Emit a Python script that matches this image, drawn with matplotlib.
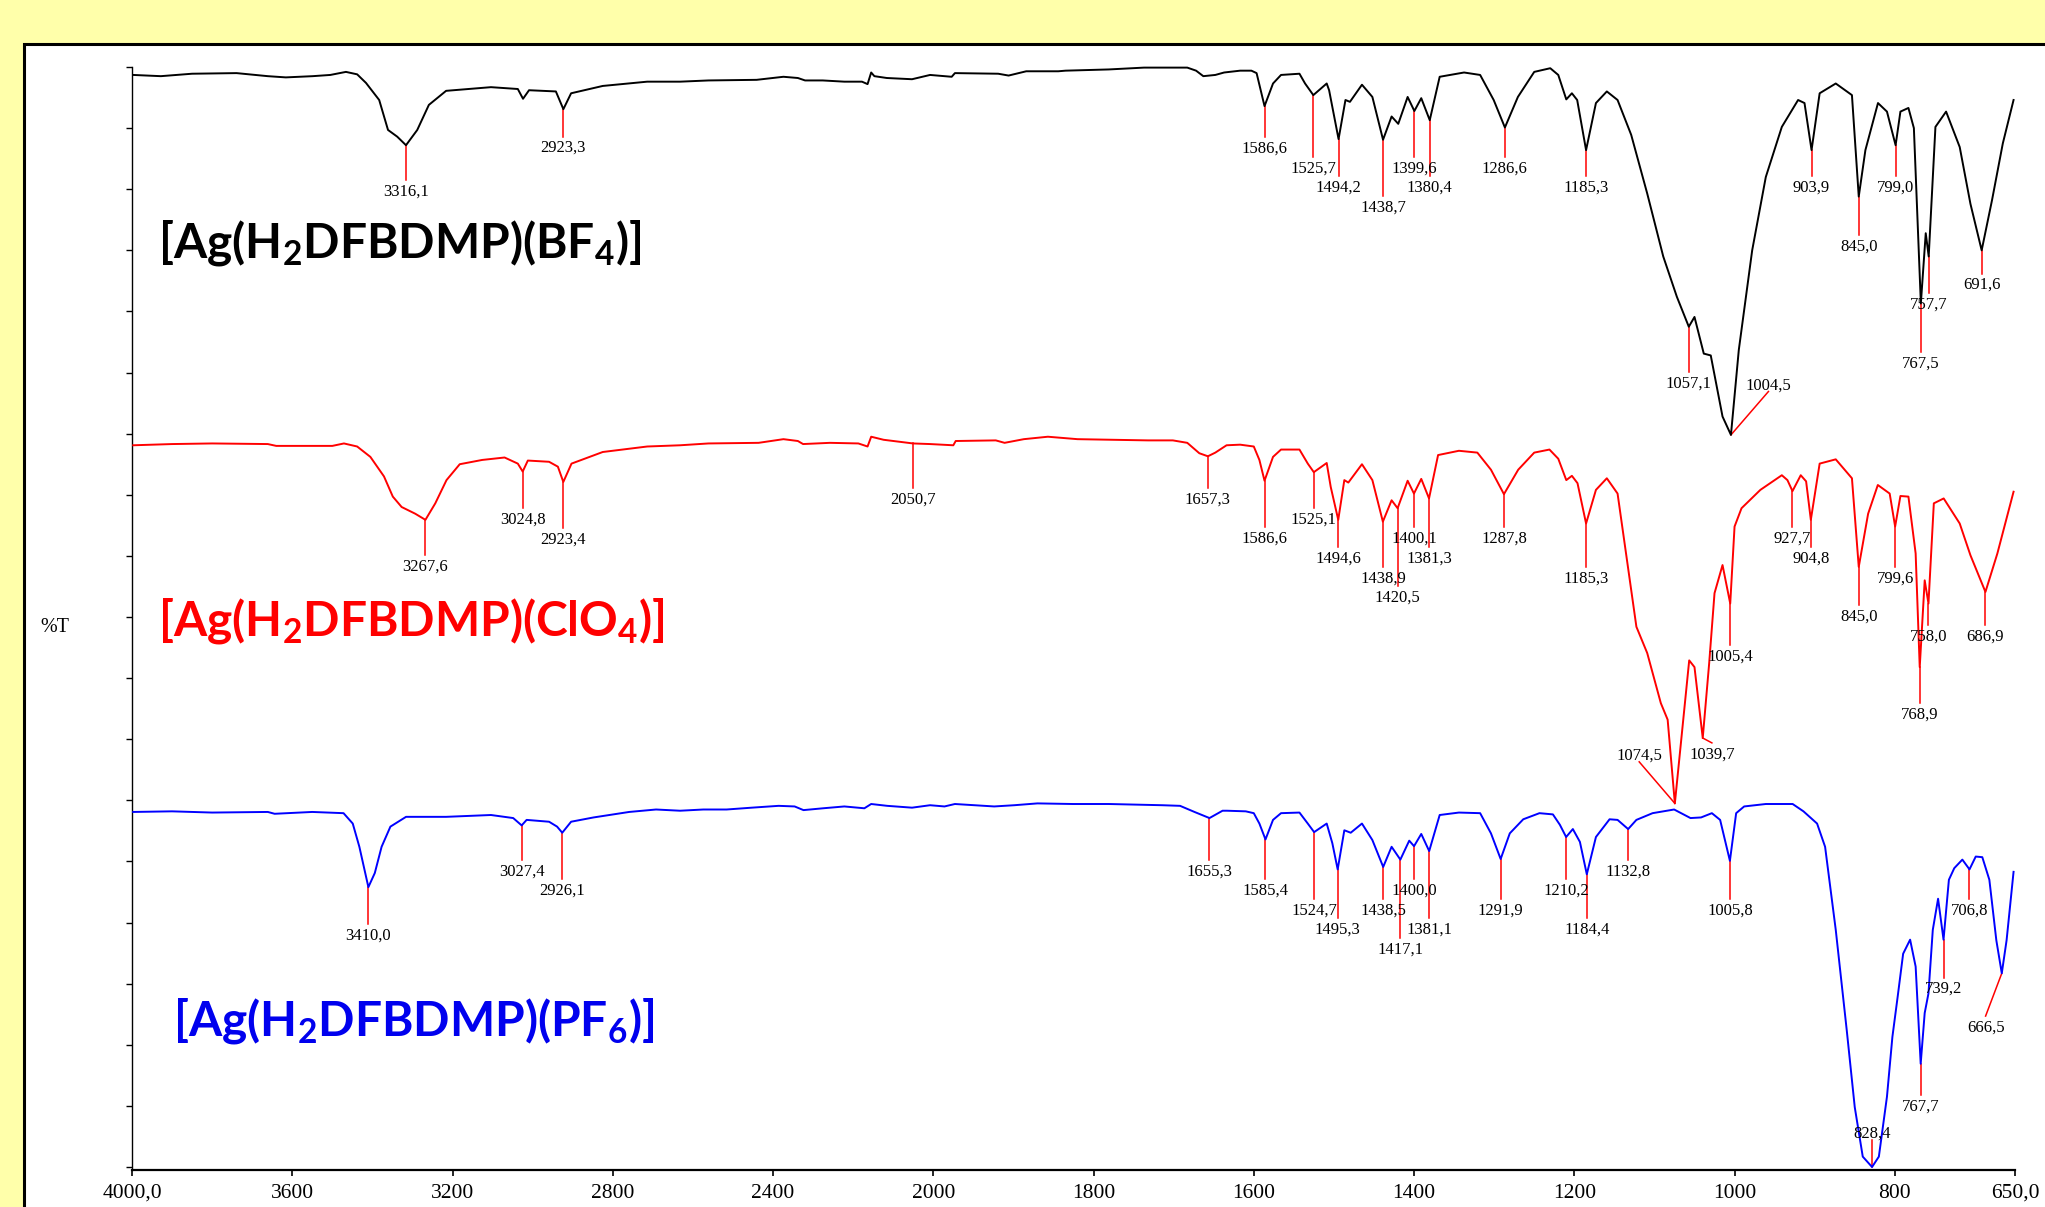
import numpy as np
import matplotlib
matplotlib.use("Agg")
import matplotlib.pyplot as plt
from matplotlib.patches import Rectangle

plt.rcParams['mathtext.fontset'] = 'custom'
plt.rcParams['mathtext.rm'] = 'Lato:bold'
plt.rcParams['mathtext.bf'] = 'Lato:bold'
plt.rcParams['mathtext.it'] = 'Lato:bold'

# ---------------- data (wavenumber cm-1, %T on stacked axis units) ----------------
bf4_wn = [3997, 3928, 3850, 3739, 3661, 3616, 3549, 3505, 3466, 3438, 3416, 3383, 3361, 3338, 3316.1,
          3288, 3259, 3216, 3104, 3037, 3024, 3009, 2942, 2923.3, 2904, 2825, 2714, 2632, 2561, 2441,
          2374, 2338, 2320, 2276, 2222, 2178, 2164, 2155, 2147, 2116, 2053, 2008, 1977, 1973, 1919,
          1906, 1884, 1844, 1835, 1781, 1737, 1683, 1672, 1663, 1648, 1637, 1617, 1603, 1596.5, 1586.6,
          1576, 1566, 1543, 1536, 1525.7, 1509, 1506, 1494.2, 1485.6, 1480, 1465, 1452, 1438.7, 1428,
          1419.7, 1408, 1399.6, 1391, 1380.4, 1368, 1337.6, 1317.5, 1300.6, 1286.6, 1270.4, 1250, 1230,
          1220, 1210, 1203, 1196.4, 1185.3, 1173, 1159.4, 1146, 1129, 1109, 1089, 1072, 1057.1, 1050,
          1038.4, 1029.7, 1015, 1004.5, 994.7, 978, 961, 941, 920.7, 912.7, 903.9, 893.8, 873.7, 853.5,
          845.0, 836.7, 821, 809.8, 799.0, 793, 783, 776.2, 767.5, 761.4, 757.7, 749.3, 736, 719, 705.6,
          691.6, 678.7, 665.2, 651.8]
bf4_t = [178.7, 178.5, 178.9, 179.0, 178.5, 178.3, 178.5, 178.7, 179.2, 178.8, 177.4, 174.6, 169.7, 168.6, 167.2,
         169.7, 173.8, 176.1, 176.7, 176.4, 174.8, 176.2, 176.0, 173.1, 175.7, 176.9, 177.6, 177.6, 177.8, 177.9,
         178.4, 178.2, 177.8, 177.8, 177.6, 177.6, 177.2, 179.1, 178.5, 178.2, 178.0, 178.7, 178.4, 179.0, 178.9,
         178.6, 179.3, 179.3, 179.4, 179.6, 179.9, 179.9, 179.4, 178.5, 178.7, 179.1, 179.4, 179.4, 179.0, 173.6,
         177.3, 178.7, 178.9, 177.3, 175.4, 177.3, 176.2, 168.2, 174.6, 174.3, 177.1, 175.1, 168.1, 171.9,
         170.7, 175.1, 172.8, 174.9, 171.3, 178.4, 179.1, 178.7, 174.6, 170.1, 175.1, 179.2, 179.8,
         178.7, 174.7, 175.7, 174.6, 166.4, 174.1, 176.0, 174.6, 168.9, 159.3, 149.0, 142.4, 137.5, 139.1,
         133.1, 132.8, 122.8, 119.8, 133.7, 150.0, 162.0, 170.2, 174.6, 174.1, 166.4, 175.7, 177.3, 175.4,
         158.8, 166.4, 174.1, 172.7, 167.2, 172.7, 173.3, 170.0, 141.3, 152.8, 149.0, 170.2, 172.7, 166.9, 157.6,
         150.0, 158.2, 167.5, 174.6]

clo4_wn = [3997, 3900, 3800, 3661, 3640, 3500, 3471, 3438, 3405, 3371, 3349, 3327, 3293, 3267.6, 3243,
           3215, 3182, 3126, 3070, 3037, 3024.8, 3012, 2959, 2937, 2923.4, 2903, 2825, 2714, 2632, 2561,
           2436, 2374, 2338, 2325, 2258, 2187, 2164, 2155, 2124, 2050.7, 2008, 1975, 1972, 1922, 1911,
           1887, 1857, 1820, 1732, 1701, 1683, 1668, 1657.3, 1648, 1634, 1617, 1600, 1593, 1586.6, 1576,
           1566, 1543, 1532.6, 1525.1, 1509, 1504, 1494.6, 1487, 1482, 1465, 1452, 1438.9, 1428, 1420.5,
           1408, 1400.1, 1391, 1381.3, 1370, 1344, 1321, 1304, 1287.8, 1270, 1250, 1231, 1220, 1210, 1203,
           1196, 1185.3, 1173, 1159.4, 1146, 1132.5, 1122.5, 1109, 1092, 1083.5, 1074.5, 1065.3, 1056.6,
           1050, 1039.7, 1031.7, 1025, 1015, 1005.4, 1000, 991.3, 967.8, 941, 934, 927.7, 917.4, 910.7,
           904.8, 893.8, 873.7, 853.5, 845.0, 833.3, 821.2, 806.4, 799.6, 793, 783, 774, 768.9, 762.7,
           758.0, 751.3, 739, 719, 705.6, 686.9, 672, 651.8]
clo4_t = [118.1, 118.3, 118.4, 118.3, 118.0, 118.0, 118.4, 117.9, 116.2, 113.0, 109.7, 108.0, 106.9, 105.9, 108.6,
          112.4, 115.0, 115.7, 116.1, 115.1, 113.8, 115.6, 115.4, 114.6, 112.1, 115.1, 117.0, 117.9, 118.1, 118.4,
          118.5, 119.1, 118.8, 118.3, 118.5, 118.4, 117.9, 119.5, 119.0, 118.4, 118.3, 118.1, 118.8, 118.9, 118.5,
          119.1, 119.5, 119.1, 118.9, 118.9, 118.5, 116.8, 116.3, 116.9, 118.1, 118.2, 117.9, 115.7, 112.3, 116.2,
          117.4, 117.4, 115.1, 113.7, 115.2, 111.3, 105.9, 112.4, 112.0, 115.0, 112.4, 105.6, 109.1, 107.8,
          112.3, 110.2, 112.6, 109.4, 116.5, 117.2, 116.9, 114.1, 110.1, 114.1, 116.9, 117.4, 115.9, 112.4, 113.1,
          111.9, 105.3, 110.8, 112.7, 110.2, 97.7, 88.4, 84.1, 75.9, 73.2, 59.5, 71.6, 82.9,
          81.8, 70.2, 82.4, 93.9, 98.5, 92.2, 104.8, 107.8, 110.8, 113.2, 112.4, 110.6, 113.2, 112.2,
          105.9, 115.1, 115.8, 112.7, 98.2, 106.9, 111.6, 110.2, 104.8, 109.8, 109.7, 100.4, 81.8, 96.0,
          92.2, 108.6, 109.4, 105.3, 100.1, 94.1, 100.4, 110.5]

pf6_wn = [3997, 3900, 3800, 3661, 3644, 3550, 3472, 3449, 3432.5, 3418, 3410.0, 3394, 3377, 3355, 3316,
          3216, 3104, 3048.5, 3027.4, 3015, 2959, 2939, 2926.1, 2904, 2848, 2759, 2692, 2632, 2574, 2516,
          2453, 2386, 2346, 2324, 2275, 2222, 2172, 2155, 2115, 2053, 2008, 1986, 1973, 1924, 1899, 1870,
          1826, 1781, 1714, 1692, 1674, 1655.3, 1639, 1633.5, 1610, 1600, 1593, 1585.4, 1576, 1566, 1543,
          1532.6, 1524.7, 1509, 1502, 1495.3, 1487, 1479, 1465, 1452, 1438.5, 1428, 1417.1, 1406, 1400.0,
          1391, 1381.1, 1368, 1344, 1317.5, 1304, 1291.9, 1280.5, 1263.7, 1243.5, 1226.7, 1218, 1210.2,
          1201.8, 1193, 1184.4, 1173, 1156, 1146, 1132.8, 1122.5, 1102.3, 1075.4, 1055, 1041.8, 1028.3,
          1018, 1005.8, 998, 988, 961, 927.5, 914, 897, 887, 873.7, 860, 850, 840, 828.4, 819.9, 809.8,
          803, 796.4, 789.6, 780.9, 774, 767.7, 762.7, 758, 752.6, 746, 739.2, 732.5, 725.8, 715.7, 706.8,
          699, 690.8, 682, 673.3, 666.5, 660.5, 651.8]
pf6_t = [58.1, 58.2, 58.0, 58.1, 57.8, 58.1, 57.9, 56.2, 52.4, 48.1, 45.8, 48.1, 52.4, 55.7, 57.3,
         57.3, 57.6, 57.1, 55.9, 56.8, 56.5, 55.7, 54.7, 56.5, 57.2, 58.1, 58.5, 58.3, 58.5, 58.5,
         58.8, 59.1, 59.0, 58.4, 58.7, 59.0, 58.7, 59.4, 59.1, 58.8, 59.2, 59.0, 59.4, 59.0, 59.2, 59.5,
         59.4, 59.4, 59.2, 59.1, 58.1, 57.1, 58.3, 58.3, 58.2, 57.9, 56.2, 53.6, 56.8, 57.9, 58.0,
         56.2, 54.8, 56.2, 53.0, 48.7, 55.1, 54.7, 56.2, 53.5, 49.1, 52.4, 50.3, 53.4, 52.5,
         54.5, 51.7, 57.6, 58.0, 57.9, 54.6, 50.4, 54.6, 56.9, 57.9, 57.7, 56.0, 54.0,
         55.3, 53.2, 47.9, 54.0, 56.9, 56.8, 55.3, 56.8, 57.9, 58.5, 57.1, 57.2, 57.9,
         56.8, 50.1, 57.9, 59.0, 59.4, 59.4, 58.2, 56.2, 52.4, 38.8, 22.4, 9.8, 1.7, 0.0, 1.7, 11.5,
         21.3, 27.9, 34.9, 37.2, 32.8, 16.9, 25.2, 28.4, 38.8, 43.9, 37.2, 47.0, 48.9, 50.3, 48.7,
         50.8, 50.7, 47.0, 37.1, 31.7, 37.1, 48.3]

# peak annotations: (peak wavenumber, leader-line end wavenumber, leader-line end level, label side)
bf4_peaks = [(3316.1, 3316.1, 161.5, 'below'), (2923.3, 2923.3, 168.6, 'below'),
             (1586.6, 1586.6, 168.5, 'below'), (1525.7, 1525.7, 165.3, 'below'),
             (1494.2, 1494.2, 162.2, 'below'), (1438.7, 1438.7, 158.9, 'below'),
             (1399.6, 1399.6, 165.3, 'below'), (1380.4, 1380.4, 162.2, 'below'),
             (1286.6, 1286.6, 165.3, 'below'), (1185.3, 1185.3, 162.2, 'below'),
             (1057.1, 1057.1, 130.1, 'below'), (1004.5, 957.7, 126.9, 'above'),
             (903.9, 903.9, 162.2, 'below'), (845.0, 845.0, 152.5, 'below'),
             (799.0, 799.0, 162.2, 'below'), (767.5, 767.5, 133.4, 'below'),
             (757.7, 757.7, 143.0, 'below'), (691.6, 691.6, 146.2, 'below')]
clo4_peaks = [(3267.6, 3267.6, 100.2, 'below'), (3024.8, 3024.8, 107.8, 'below'),
              (2923.4, 2923.4, 104.5, 'below'), (2050.7, 2050.7, 111.1, 'below'),
              (1657.3, 1657.3, 111.1, 'below'), (1586.6, 1586.6, 104.7, 'below'),
              (1525.1, 1525.1, 107.8, 'below'), (1494.6, 1494.6, 101.4, 'below'),
              (1438.9, 1438.9, 98.2, 'below'), (1420.5, 1420.5, 95.1, 'below'),
              (1400.1, 1400.1, 104.7, 'below'), (1381.3, 1381.3, 101.4, 'below'),
              (1287.8, 1287.8, 104.7, 'below'), (1185.3, 1185.3, 98.2, 'below'),
              (1074.5, 1119.0, 66.3, 'above'), (1039.7, 1028.3, 69.4, 'below'),
              (1005.4, 1005.4, 85.4, 'below'), (927.7, 927.7, 104.7, 'below'),
              (904.8, 904.8, 101.4, 'below'), (845.0, 845.0, 91.9, 'below'),
              (799.6, 799.6, 98.2, 'below'), (768.9, 768.9, 75.9, 'below'),
              (758.0, 758.0, 88.7, 'below'), (686.9, 686.9, 88.7, 'below')]
pf6_peaks = [(3410.0, 3410.0, 39.8, 'below'), (3027.4, 3027.4, 50.2, 'below'),
             (2926.1, 2926.1, 47.1, 'below'), (1655.3, 1655.3, 50.2, 'below'),
             (1585.4, 1585.4, 47.1, 'below'), (1524.7, 1524.7, 43.9, 'below'),
             (1495.3, 1495.3, 40.7, 'below'), (1438.5, 1438.5, 43.9, 'below'),
             (1417.1, 1417.1, 37.4, 'below'), (1400.0, 1400.0, 47.1, 'below'),
             (1381.1, 1381.1, 40.7, 'below'), (1291.9, 1291.9, 43.9, 'below'),
             (1210.2, 1210.2, 47.1, 'below'), (1184.4, 1184.4, 40.7, 'below'),
             (1132.8, 1132.8, 50.2, 'below'), (1005.8, 1005.8, 43.9, 'below'),
             (828.4, 828.4, 4.4, 'above'), (767.7, 767.7, 11.8, 'below'),
             (739.2, 739.2, 31.0, 'below'), (706.8, 706.8, 43.9, 'below'),
             (666.5, 686.7, 24.7, 'below')]

xtick_vals = [4000, 3600, 3200, 2800, 2400, 2000, 1800, 1600, 1400, 1200, 1000, 800, 650]
xtick_labels = ["4000,0", "3600", "3200", "2800", "2400", "2000", "1800", "1600", "1400",
                "1200", "1000", "800", "650,0"]

compound_names = [r"[Ag(H$_{\mathbf{2}}$DFBDMP)(BF$_{\mathbf{4}}$)]",
                  r"[Ag(H$_{\mathbf{2}}$DFBDMP)(ClO$_{\mathbf{4}}$)]",
                  r"[Ag(H$_{\mathbf{2}}$DFBDMP)(PF$_{\mathbf{6}}$)]"]

# ---------------- figure ----------------
W, H = 2045, 1207
fig = plt.figure(figsize=(W / 100, H / 100), dpi=100, facecolor='#ffffaa')
panel = Rectangle((24 / W, -0.1), 1.2, 1.1 - 44 / H, transform=fig.transFigure,
                  facecolor='white', edgecolor='black', linewidth=2.2, zorder=-10)
fig.patches.append(panel)

ax = fig.add_axes([132 / W, 1 - 1170 / H, (2015 - 132) / W, (1170 - 67) / H])
ax.set_facecolor('none')
ax.set_zorder(5)


def fwd(x):
    x = np.asarray(x, dtype=float)
    return np.where(x > 2000, 2000 + (x - 2000) / 2.0, x)


def inv(t):
    t = np.asarray(t, dtype=float)
    return np.where(t > 2000, 2000 + (t - 2000) * 2.0, t)


ax.set_xscale('function', functions=(fwd, inv))
ax.set_xlim(4000, 650)
ax.set_ylim(-0.49, 180)

serif = 'Liberation Serif'
spectra = [(bf4_wn, bf4_t, bf4_peaks, 'black'),
           (clo4_wn, clo4_t, clo4_peaks, '#ff0000'),
           (pf6_wn, pf6_t, pf6_peaks, '#0000ff')]

for wn, t, peaks, col in spectra:
    ax.plot(wn, t, color=col, lw=1.4, zorder=3, solid_joinstyle='round', clip_on=False)
    wn_a = np.array(wn)[::-1]
    t_a = np.array(t)[::-1]
    for pk, ex, ey, side in peaks:
        py = np.interp(pk, wn_a, t_a)
        ax.plot([pk, ex], [py, ey], color='#ff0000', lw=1.1, zorder=2)
        lab = f"{pk:.1f}".replace('.', ',')
        if side == 'below':
            ax.annotate(lab, xy=(ex, ey), xytext=(0, -2.5), textcoords='offset points',
                        ha='center', va='top', fontsize=12, family=serif, color='black')
        else:
            ax.annotate(lab, xy=(ex, ey), xytext=(0, 1.5), textcoords='offset points',
                        ha='center', va='baseline', fontsize=12, family=serif, color='black')

# compound labels
name_colors = ['black', '#ff0000', '#0000ee']
name_pos = [(158, 257), (158, 635), (173, 1035)]
for name, col, (px, py) in zip(compound_names, name_colors, name_pos):
    fig.text(px / W, 1 - py / H, name, color=col, fontsize=34.5, family='Lato',
             fontweight='bold', ha='left', va='baseline', zorder=6)

fig.text(55 / W, 1 - 627 / H, '%T', ha='center', va='center', fontsize=14.5, family=serif)

ax.set_xticks(xtick_vals)
ax.set_xticklabels(xtick_labels, fontsize=15.5, family=serif)
ax.minorticks_off()
ax.set_yticks(np.arange(0, 181, 10))
ax.set_yticklabels([])
ax.tick_params(axis='x', direction='out', length=4, width=1.2, pad=6)
ax.tick_params(axis='y', direction='out', length=4, width=1.0)
for s in ['top', 'right']:
    ax.spines[s].set_visible(False)
ax.spines['left'].set_linewidth(1.0)
ax.spines['bottom'].set_linewidth(1.6)

fig.savefig('out.png', dpi=100, facecolor=fig.get_facecolor())
